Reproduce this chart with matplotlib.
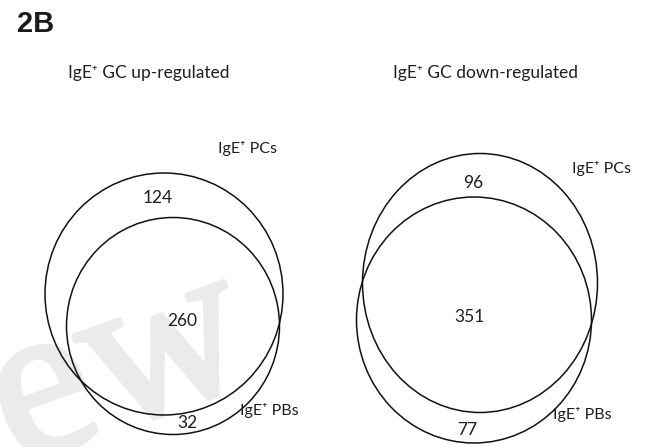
import matplotlib
matplotlib.use("Agg")
import matplotlib.pyplot as plt
import matplotlib.patheffects as pe
from matplotlib.patches import Ellipse

# Venn counts: (PCs only, shared, PBs only)
panel_titles = ["IgE\u207a GC up-regulated", "IgE\u207a GC down-regulated"]
set_labels = ["IgE\u207a PCs", "IgE\u207a PBs"]
pcs_only = [124, 96]
shared = [260, 351]
pbs_only = [32, 77]

W, H = 661, 447
fig = plt.figure(figsize=(W / 100, H / 100), dpi=100)
ax = fig.add_axes([0, 0, 1, 1])
ax.set_xlim(0, W)
ax.set_ylim(H, 0)
ax.axis("off")

font = ["Lato", "DejaVu Sans"]
ink = "#1e1e1e"

# faint diagonal watermark behind the left diagram
wm_color = "#ebebeb"
ax.text(16, 466, "ew", fontsize=160, family="Liberation Serif",
        color=wm_color, ha="left", va="baseline", rotation=20,
        rotation_mode="anchor", zorder=0,
        path_effects=[pe.withStroke(linewidth=4, foreground=wm_color)])

ax.text(17, 24, "2B", fontsize=21, fontweight="bold", family="Liberation Sans",
        ha="left", va="center", color="#1a1a1a")

# layout for each panel: ellipse geometry (cx, cy, w, h) for PCs and PBs,
# and anchor points for titles/labels/counts
layout = [
    dict(title=(68, 73),
         pcs=(164, 294, 238, 242), pbs=(173, 326, 213, 217),
         pcs_lab=(218, 148), pbs_lab=(240, 410),
         c_pcs=(158, 198), c_shared=(182, 321), c_pbs=(187, 423)),
    dict(title=(393, 73),
         pcs=(480, 283, 235, 259), pbs=(474, 320, 235, 246),
         pcs_lab=(572, 168), pbs_lab=(553, 414),
         c_pcs=(473, 183), c_shared=(469, 317), c_pbs=(467, 430)),
]

for i, L in enumerate(layout):
    ax.text(*L["title"], panel_titles[i], fontsize=12.5, family=font,
            ha="left", va="center", color=ink)
    for key in ("pcs", "pbs"):
        cx, cy, w, h = L[key]
        ax.add_patch(Ellipse((cx, cy), w, h, fill=False, ec="#111111",
                             lw=1.1, zorder=2))
    ax.text(*L["pcs_lab"], set_labels[0], fontsize=11.5, family=font,
            ha="left", va="center", color=ink, zorder=3)
    ax.text(*L["pbs_lab"], set_labels[1], fontsize=11.5, family=font,
            ha="left", va="center", color=ink, zorder=3)
    for pos, val in ((L["c_pcs"], pcs_only[i]), (L["c_shared"], shared[i]),
                     (L["c_pbs"], pbs_only[i])):
        ax.text(*pos, str(val), fontsize=12.5, family=font,
                ha="center", va="center", color=ink, zorder=3)

fig.savefig("out.png", dpi=100, facecolor="white")
